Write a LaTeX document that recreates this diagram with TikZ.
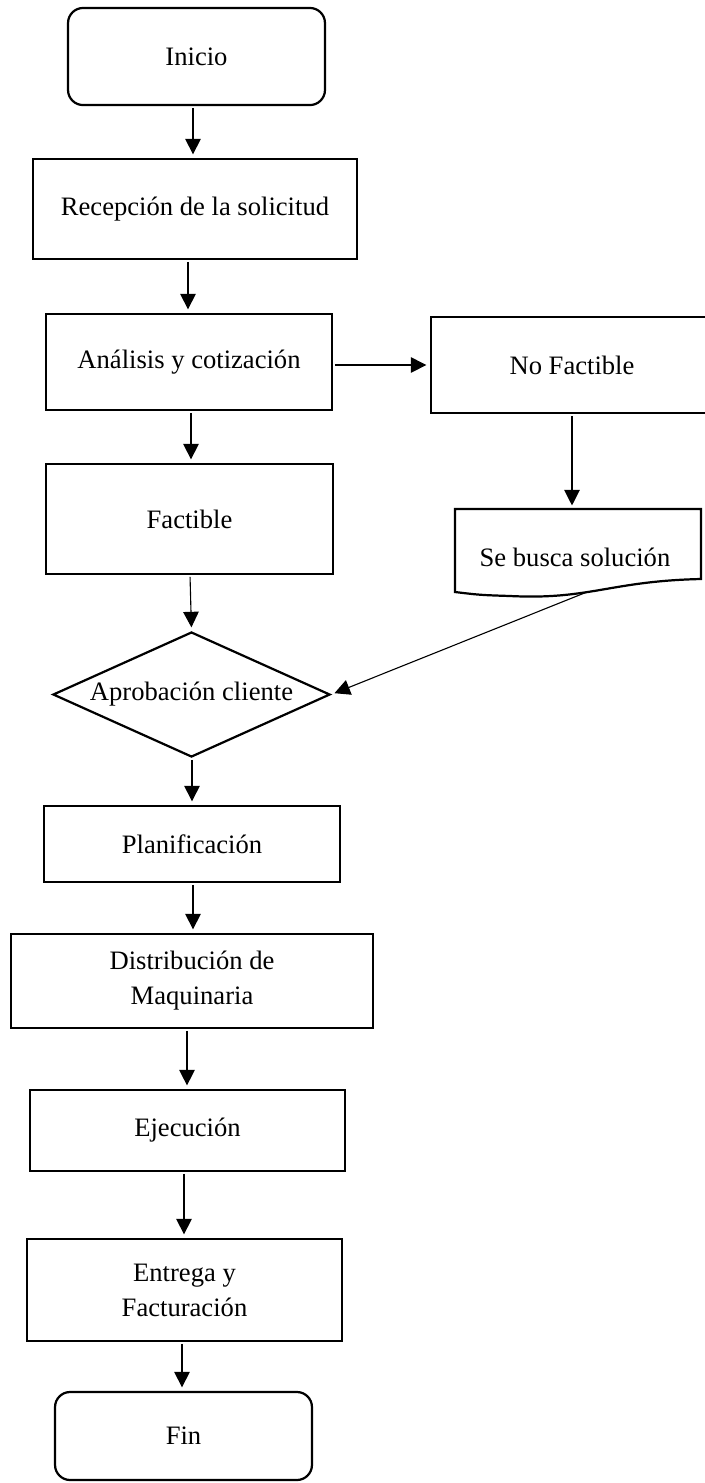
\documentclass[tikz,border=0pt]{standalone}
\usepackage{fontspec}
\setmainfont{Liberation Serif}
\usepackage{tikz}
\usetikzlibrary{shapes.geometric, arrows.meta, positioning, calc}

\begin{document}
\begin{tikzpicture}[x=0.4511pt, y=-0.4511pt,
    font=\fontsize{12pt}{15.8pt}\selectfont,
    caja/.style={draw, line width=1pt, align=center, inner sep=0pt},
    terminal/.style={caja, rounded corners=6.8pt, minimum width=115.9pt},
    decision/.style={draw, diamond, line width=1pt, inner sep=0pt, shape aspect=2.2,
      minimum width=125pt, minimum height=56.4pt},
    flecha/.style={-{Triangle[length=7pt, width=7pt]}, line width=0.5pt,
      shorten >=1.6pt, shorten <=0.8pt}]

    \useasboundingbox (0,0) rectangle (705,1483);

    \node[terminal, minimum height=43.8pt] (inicio) at (196.5,56.5) {Inicio};
    \node[caja, minimum width=146.2pt, minimum height=45.1pt] (recepcion) at (195,209) {Recepción de la solicitud};
    \node[caja, minimum width=129.0pt, minimum height=43.3pt] (analisis) at (189,362) {Análisis y cotización};
    \node[caja, minimum width=127.2pt, minimum height=43.3pt] (nofactible) at (572,365) {No Factible};
    \node[caja, minimum width=129.5pt, minimum height=49.6pt] (factible) at (189.5,519) {Factible};
    \node[decision] (aprobacion) at (191.5,694.5) {Aprobación cliente};
    \node[caja, minimum width=133.5pt, minimum height=34.3pt] (planificacion) at (192,844) {Planificación};
    \node[caja, minimum width=163.3pt, minimum height=42.4pt] (distribucion) at (192,981) {Distribución de\\ Maquinaria};
    \node[caja, minimum width=142.1pt, minimum height=36.5pt] (ejecucion) at (187.5,1130.5) {Ejecución};
    \node[caja, minimum width=142.1pt, minimum height=46.0pt] (entrega) at (184.5,1290) {Entrega y\\ Facturación};
    \node[terminal, minimum height=39.7pt] (fin) at (183.5,1436) {Fin};

    \node[align=center, inner sep=0pt] (solucion) at (575,557) {Se busca solución};
    \draw[line width=1pt] (455,509) -- (701,509) -- (701,579)
      .. controls (610,581) and (590,600) .. (510,596)
      .. controls (480,595) .. (455,592) -- cycle;
    \coordinate (solucion pie) at (587,592);

    \draw[flecha] (193,0 |- inicio.south) -- (193,0 |- recepcion.north);
    \draw[flecha] (188,0 |- recepcion.south) -- (188,0 |- analisis.north);
    \draw[flecha] (analisis.east |- 0,365) -- (nofactible.west |- 0,365);
    \draw[flecha] (191,0 |- analisis.south) -- (191,0 |- factible.north);
    \draw[flecha] (nofactible.south) -- (572,509);
    \draw[flecha] (190,0 |- factible.south) -- (aprobacion.north);
    \draw[flecha, shorten <=0pt] (solucion pie) -- (aprobacion.east);
    \draw[flecha] (192,0 |- aprobacion.south) -- (192,0 |- planificacion.north);
    \draw[flecha] (193,0 |- planificacion.south) -- (193,0 |- distribucion.north);
    \draw[flecha] (187,0 |- distribucion.south) -- (187,0 |- ejecucion.north);
    \draw[flecha] (184,0 |- ejecucion.south) -- (184,0 |- entrega.north);
    \draw[flecha] (182,0 |- entrega.south) -- (182,0 |- fin.north);
  \end{tikzpicture}
\end{document}
